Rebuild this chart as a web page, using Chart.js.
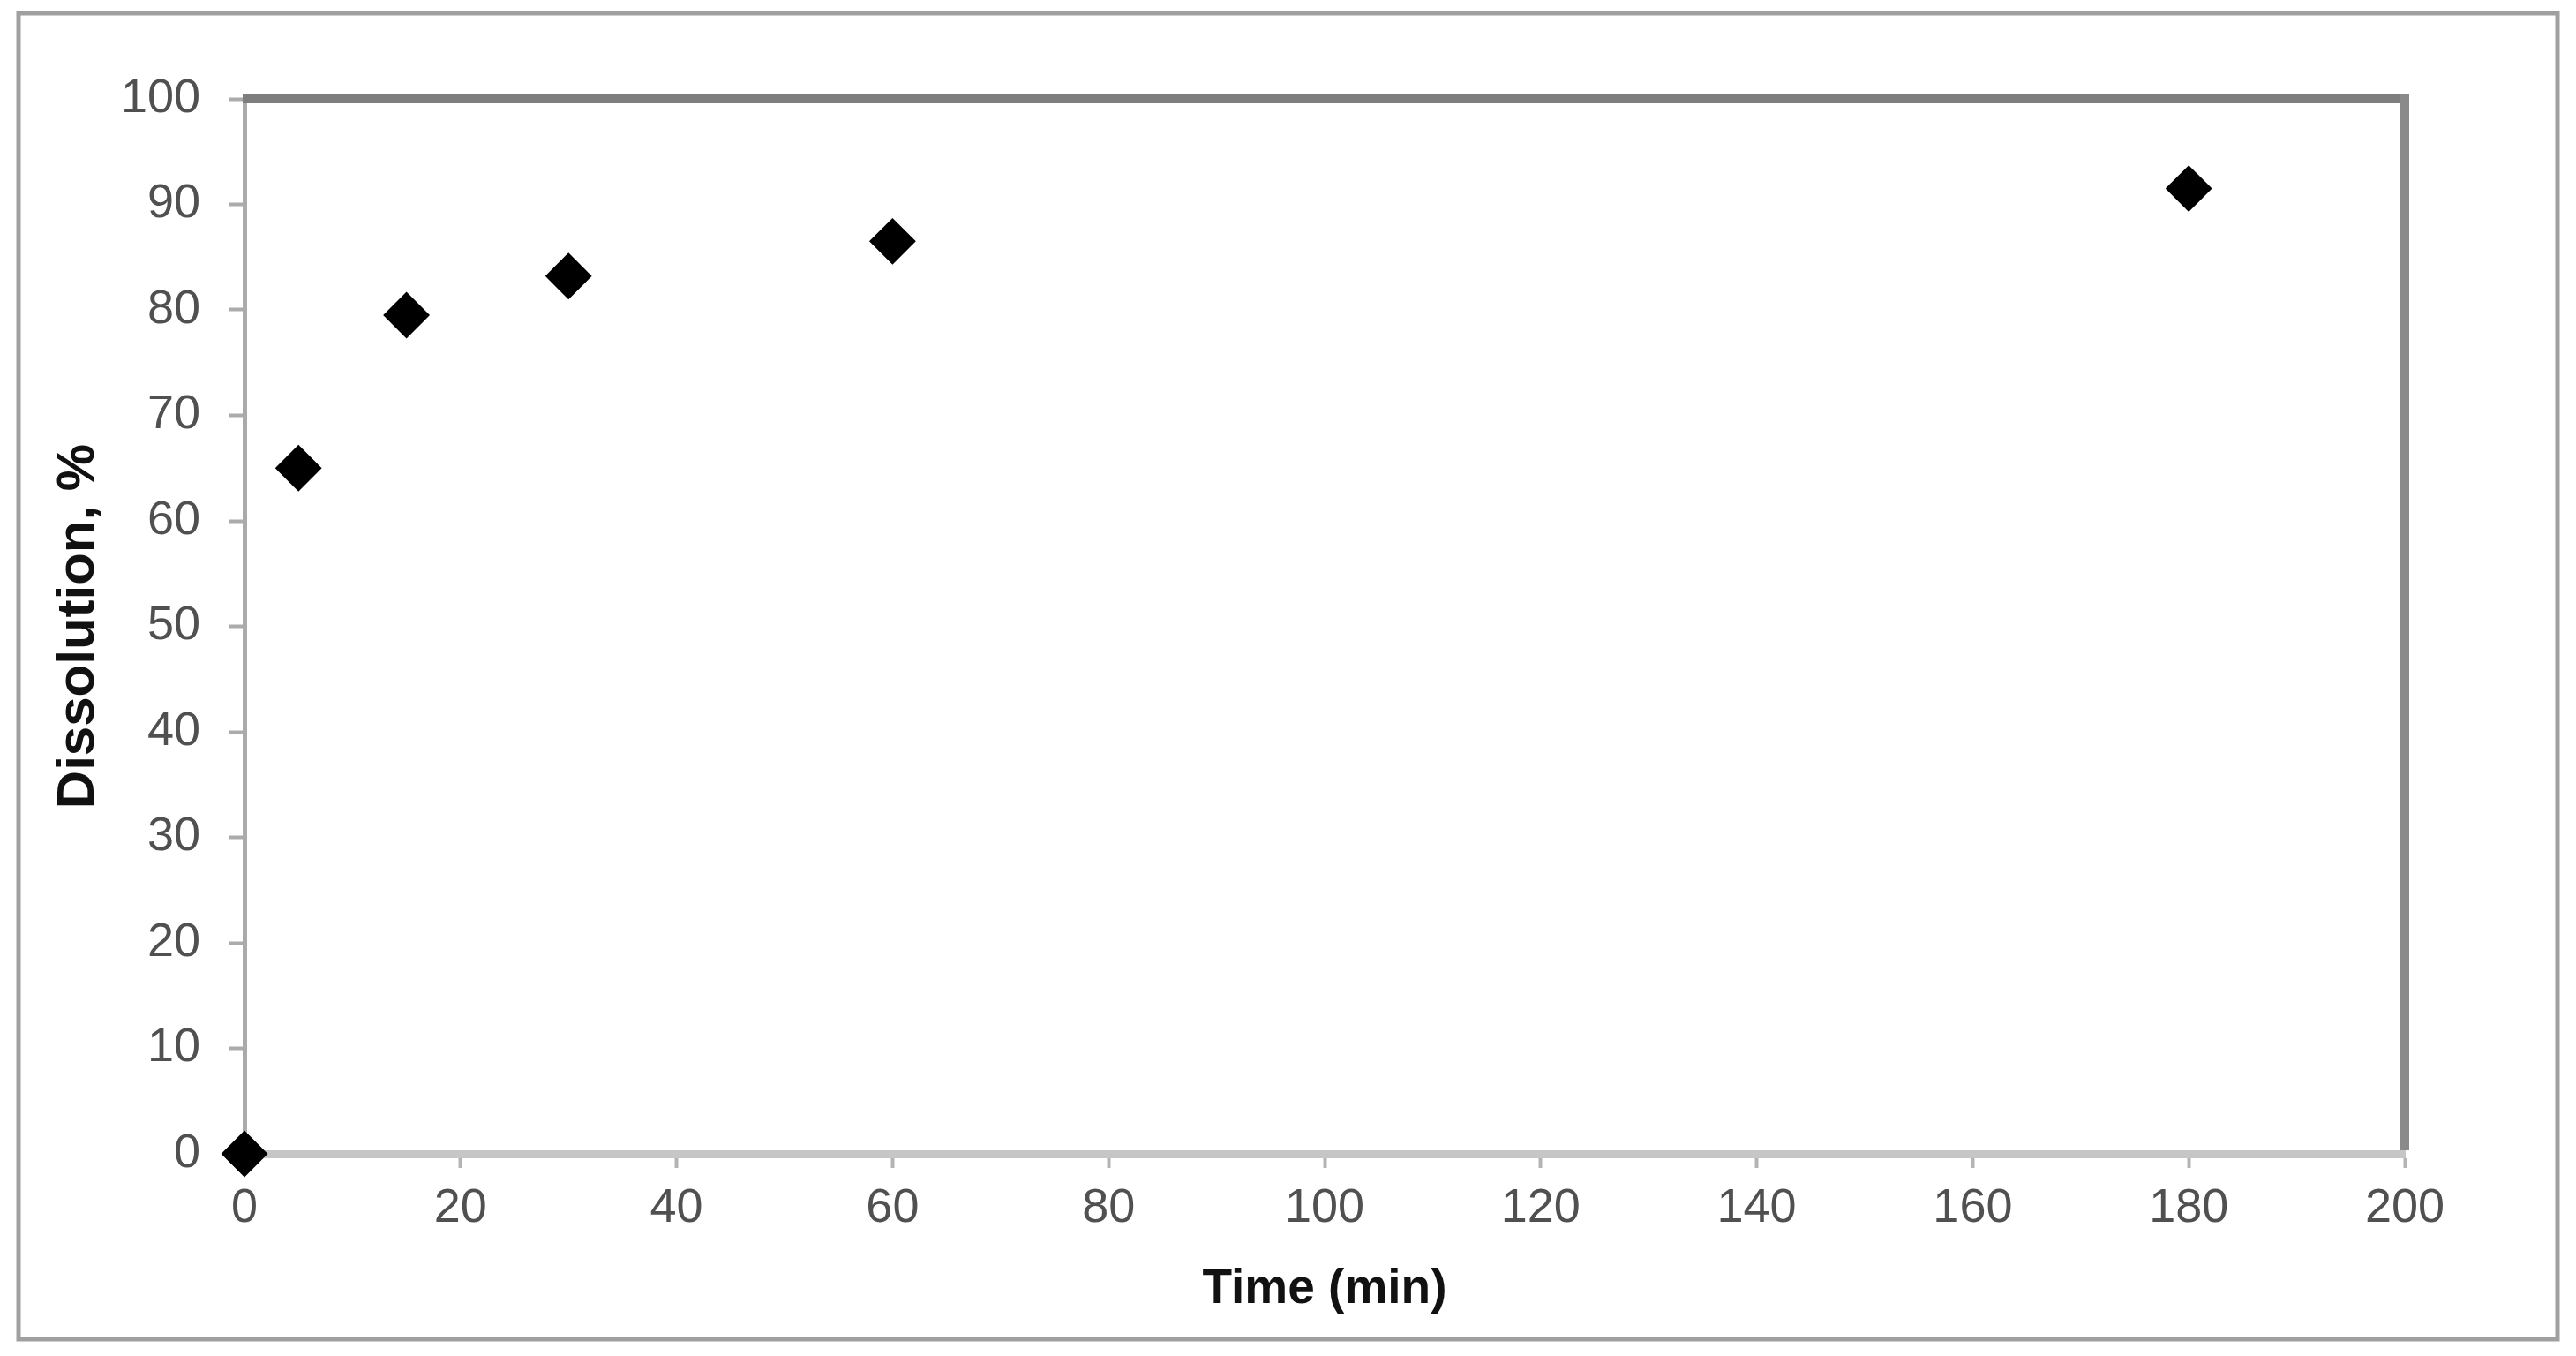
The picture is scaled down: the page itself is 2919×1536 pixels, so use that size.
<!DOCTYPE html>
<html>
<head>
<meta charset="utf-8">
<title>Dissolution vs time</title>
<script src="https://cdn.jsdelivr.net/npm/chart.js@4.4.1/dist/chart.umd.min.js"></script>
<style>
  html, body { margin: 0; padding: 0; background: #fff; }
  #wrap { width: 2919px; height: 1536px; position: relative; }
</style>
</head>
<body>
<div id="wrap"><canvas id="myChart"></canvas></div>
<script>
// data
const times = [0, 5, 15, 30, 60, 180];
const dissolution = [0, 65, 79.5, 83.2, 86.5, 91.5];

// axis ranges / tick steps
const xRange = [0, 200];
const xStep = 20;
const yRange = [0, 100];
const yStep = 10;

const xTitle = 'Time (min)';
const yTitle = 'Dissolution, %';

const fontFamily = '"Liberation Sans", Arial, sans-serif';

const points = times.map((t, i) => ({ x: t, y: dissolution[i] }));

// outer frame + the top/right edges of the plot box (Excel style)
const framePlugin = {
  id: 'frame',
  beforeDraw(chart) {
    const ctx = chart.ctx;
    ctx.save();
    ctx.fillStyle = '#ffffff';
    ctx.fillRect(0, 0, chart.width, chart.height);
    ctx.strokeStyle = '#a0a0a0';
    ctx.lineWidth = 5;
    ctx.strokeRect(21, 15, chart.width - 42, chart.height - 34);
    ctx.restore();
  },
  beforeDatasetsDraw(chart) {
    const { ctx, chartArea: a } = chart;
    ctx.save();
    ctx.lineWidth = 10;
    ctx.strokeStyle = '#7e7e7e';
    ctx.beginPath();
    ctx.moveTo(a.left - 2, a.top);
    ctx.lineTo(a.right + 5, a.top);
    ctx.stroke();
    ctx.strokeStyle = '#8a8a8a';
    ctx.beginPath();
    ctx.moveTo(a.right, a.top - 5);
    ctx.lineTo(a.right, a.bottom - 4);
    ctx.stroke();
    ctx.restore();
  }
};

const ctx = document.getElementById('myChart').getContext('2d');
const myChart = new Chart(ctx, {
  type: 'scatter',
  data: {
    datasets: [{
      label: 'Dissolution',
      data: points,
      pointStyle: 'rectRot',
      pointRadius: 25,
      pointHoverRadius: 25,
      backgroundColor: '#000000',
      borderColor: '#000000',
      pointBorderWidth: 2,
      showLine: false,
      clip: false
    }]
  },
  options: {
    responsive: true,
    maintainAspectRatio: false,
    devicePixelRatio: 1,
    animation: false,
    layout: { padding: { top: 112, right: 194, bottom: 0, left: 0 } },
    plugins: {
      legend: { display: false },
      tooltip: { enabled: false }
    },
    scales: {
      x: {
        type: 'linear',
        min: xRange[0],
        max: xRange[1],
        ticks: {
          stepSize: xStep,
          padding: 14,
          color: '#505050',
          font: { family: fontFamily, size: 54 }
        },
        grid: {
          drawOnChartArea: false,
          drawTicks: true,
          tickLength: 16,
          tickWidth: 4,
          tickColor: '#b4b4b4'
        },
        border: { color: '#c6c6c6', width: 9 },
        title: {
          display: true,
          text: xTitle,
          color: '#111111',
          font: { family: fontFamily, size: 55, weight: 'bold' },
          padding: { top: 0, bottom: 42 }
        },
        afterFit(scale) { scale.height = 229; }
      },
      y: {
        type: 'linear',
        min: yRange[0],
        max: yRange[1],
        ticks: {
          stepSize: yStep,
          padding: 32,
          color: '#505050',
          font: { family: fontFamily, size: 54 }
        },
        grid: {
          drawOnChartArea: false,
          drawTicks: true,
          tickLength: 18,
          tickWidth: 4,
          tickColor: '#ababab'
        },
        border: { color: '#aaaaaa', width: 5 },
        title: {
          display: true,
          text: yTitle,
          color: '#111111',
          font: { family: fontFamily, size: 60, weight: 'bold' },
          padding: { top: 53, bottom: 0 }
        },
        afterFit(scale) { scale.width = 277; }
      }
    }
  },
  plugins: [framePlugin]
});
</script>
</body>
</html>
